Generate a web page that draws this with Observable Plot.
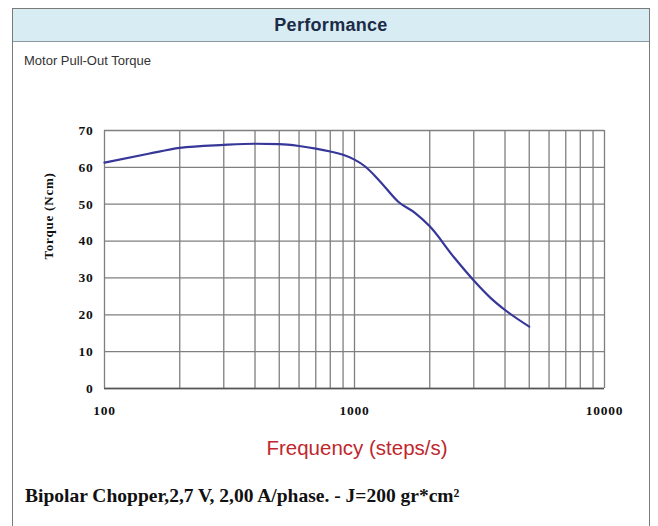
<!DOCTYPE html>
<html><head><meta charset="utf-8">
<script src="https://cdn.jsdelivr.net/npm/d3@7"></script>
<script src="https://cdn.jsdelivr.net/npm/@observablehq/plot@0.6"></script>
<style>
body{margin:0;background:#fff;width:658px;height:526px;overflow:hidden;position:relative;font-family:"Liberation Sans",Arial,sans-serif}
#box{position:absolute;left:12px;top:8px;width:638px;height:530px;border:1.5px solid #7a7a7a;box-sizing:border-box}
#hdr{position:absolute;left:0;top:0;right:0;height:32px;background:#d8ecf3;border-bottom:1.5px solid #8a9aa0;text-align:center;font-weight:bold;font-size:18px;letter-spacing:0.3px;line-height:32px;color:#1c2b48}
#sub{position:absolute;left:24px;top:53px;font-size:13px;color:#333}
#xl{position:absolute;left:0;width:714px;top:436px;text-align:center;font-size:20.5px;color:#c0272d}
#foot{position:absolute;left:25px;top:485px;font-family:"Liberation Serif","Times New Roman",serif;font-weight:bold;font-size:19.5px;color:#111}
#chart{position:absolute;left:0;top:100px}
#chart svg text{letter-spacing:0.8px}
</style></head><body>
<div id="box"><div id="hdr">Performance</div></div>
<div id="sub">Motor Pull-Out Torque</div>
<div id="chart"></div>
<div id="xl">Frequency (steps/s)</div>
<div id="foot">Bipolar Chopper,2,7 V, 2,00 A/phase. - J=200 gr*cm²</div>
<script>
const freq   = [100, 150, 200, 300, 400, 500, 600, 700, 800, 900, 1000, 1100, 1250, 1500, 1750, 2000, 2500, 3000, 3500, 4000, 5000];
const torque = [61.3, 63.7, 65.3, 66.1, 66.4, 66.3, 65.8, 65.1, 64.3, 63.4, 62.1, 60.3, 56.6, 50.6, 47.6, 44.0, 35.6, 29.3, 24.6, 21.3, 16.8];
const xTicks = [100, 1000, 10000];
const xGrid = [100,200,300,400,500,600,700,800,900,1000,2000,3000,4000,5000,6000,7000,8000,9000,10000];
const yTicks = [0,10,20,30,40,50,60,70];
const yLabel = "Torque (Ncm)";

const data = freq.map((f,i)=>({f, t: torque[i]}));
const serif = '"Liberation Serif","Times New Roman",serif';

const plot = Plot.plot({
  width: 658, height: 330,
  marginLeft: 104, marginRight: 54, marginTop: 30, marginBottom: 42,
  style: {fontFamily: serif, fontWeight: "bold", fontSize: "13px", color: "#111", background: "transparent"},
  x: {type: "log", domain: [100, 10000]},
  y: {domain: [0, 70]},
  marks: [
    Plot.ruleX(xGrid, {stroke: "#7f7f7f", strokeWidth: 1.3}),
    Plot.ruleY(yTicks, {stroke: "#7f7f7f", strokeWidth: 1.3}),
    Plot.ruleY([0], {stroke: "#555", strokeWidth: 1.5}),
    Plot.axisX(xTicks, {tickSize: 0, tickPadding: 17, tickFormat: d => String(d), fontSize: 13.5, label: null}),
    Plot.axisY(yTicks, {tickSize: 0, tickPadding: 11, fontSize: 13.5, label: null}),
    Plot.text([yLabel], {frameAnchor: "left", dx: -56, rotate: -90, fontSize: 13, fontWeight: "bold"}),
    Plot.line(data, {x: "f", y: "t", stroke: "#37379a", strokeWidth: 2.2, curve: "monotone-x"})
  ]
});
document.getElementById("chart").appendChild(plot);
</script>
</body></html>
